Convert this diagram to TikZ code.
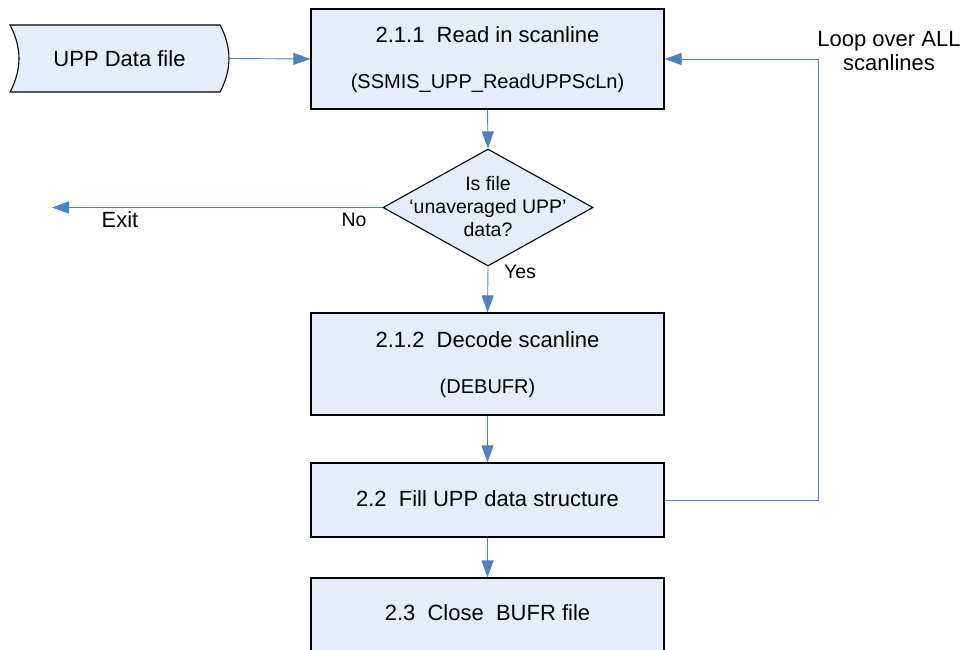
\documentclass[tikz,border=0pt]{standalone}
\usepackage{fontspec}
\setmainfont{Liberation Sans}
\usetikzlibrary{arrows.meta,shapes.geometric}
\definecolor{boxfill}{HTML}{E6EDF8}
\definecolor{linkblue}{HTML}{4F81BD}
\tikzset{
  procbox/.style={draw=black,line width=1.2pt,fill=boxfill,rectangle,minimum width=353pt,inner sep=0pt},
  conn/.style={draw=linkblue,line width=0.9pt,-{Triangle[length=17pt,width=12pt]}},
  plainconn/.style={draw=linkblue,line width=0.9pt},
  ttl/.style={font=\fontsize{22}{26}\selectfont,inner sep=0pt},
  sub/.style={font=\fontsize{20}{24}\selectfont,inner sep=0pt},
  lbl/.style={font=\fontsize{19.5}{24}\selectfont,inner sep=0pt},
}
\begin{document}
\begin{tikzpicture}[x=1pt,y=-1pt]
\clip (0,0) rectangle (965,649);
\fill[white] (0,0) rectangle (965,649);
% data file shape
\path[draw=black,line width=1.1pt,fill=boxfill]
  (10,25) -- (220,25) .. controls (226,36) and (229,48) .. (229,58.5)
  .. controls (229,69) and (226,81) .. (220,92) -- (10,92)
  .. controls (16,81) and (19,69) .. (19,58.5)
  .. controls (19,48) and (16,36) .. (10,25) -- cycle;
\node[rectangle,minimum width=219pt,minimum height=67pt,inner sep=0pt,font=\fontsize{22}{26}\selectfont] (data) at (119.5,58.5) {UPP Data file};
% boxes
\node[procbox,minimum height=100pt] (b1) at (487.5,59) {};
\node[ttl] (t1) at (487.5,35) {2.1.1\ \ Read in scanline};
\node[sub] (s1) at (487.5,83) {(SSMIS\_UPP\_ReadUPPScLn)};
\node[draw=black,line width=1.1pt,fill=boxfill,diamond,minimum width=210pt,minimum height=117pt,inner sep=0pt] (dec) at (488,207.5) {};
\node[lbl,align=center] (dt) at (488,206.5) {Is file\\[-1pt]‘unaveraged UPP’\\[-1pt]data?};
\node[procbox,minimum height=102pt] (b2) at (487.5,364) {};
\node[ttl] (t2) at (487.5,340) {2.1.2\ \ Decode scanline};
\node[sub] (s2) at (487.5,388) {(DEBUFR)};
\node[procbox,minimum height=74pt] (b3) at (487.5,500) {};
\node[ttl] (t3) at (487.5,499) {2.2\ \ Fill UPP data structure};
\node[procbox,minimum height=73pt] (b4) at (487.5,614.5) {};
\node[ttl] (t4) at (487.5,613) {2.3\ \ Close\ \ BUFR file};
% connectors
\coordinate (exitpt) at (52,207.5);
\coordinate (lp) at (818,59);
\draw[conn] (data.east) -- (b1.west);
\draw[conn] (b1.south) -- (dec.north);
\draw[conn] (dec.south) -- (b2.north);
\draw[conn] (dec.west) -- (exitpt);
\draw[conn] (b2.south) -- (b3.north);
\draw[conn] (b3.south) -- (b4.north);
\draw[conn] (b3.east) -| (lp) -- (b1.east);
% labels
\node[font=\fontsize{22}{26}\selectfont,inner sep=0pt] (exitl) at (120,220) {Exit};
\node[lbl] (nol) at (354,220) {No};
\node[lbl] (yesl) at (520,272) {Yes};
\node[font=\fontsize{22}{26}\selectfont,align=center,inner sep=0pt] (loopl) at (889,51) {Loop over ALL\\[-2pt]scanlines};
\end{tikzpicture}
\end{document}
